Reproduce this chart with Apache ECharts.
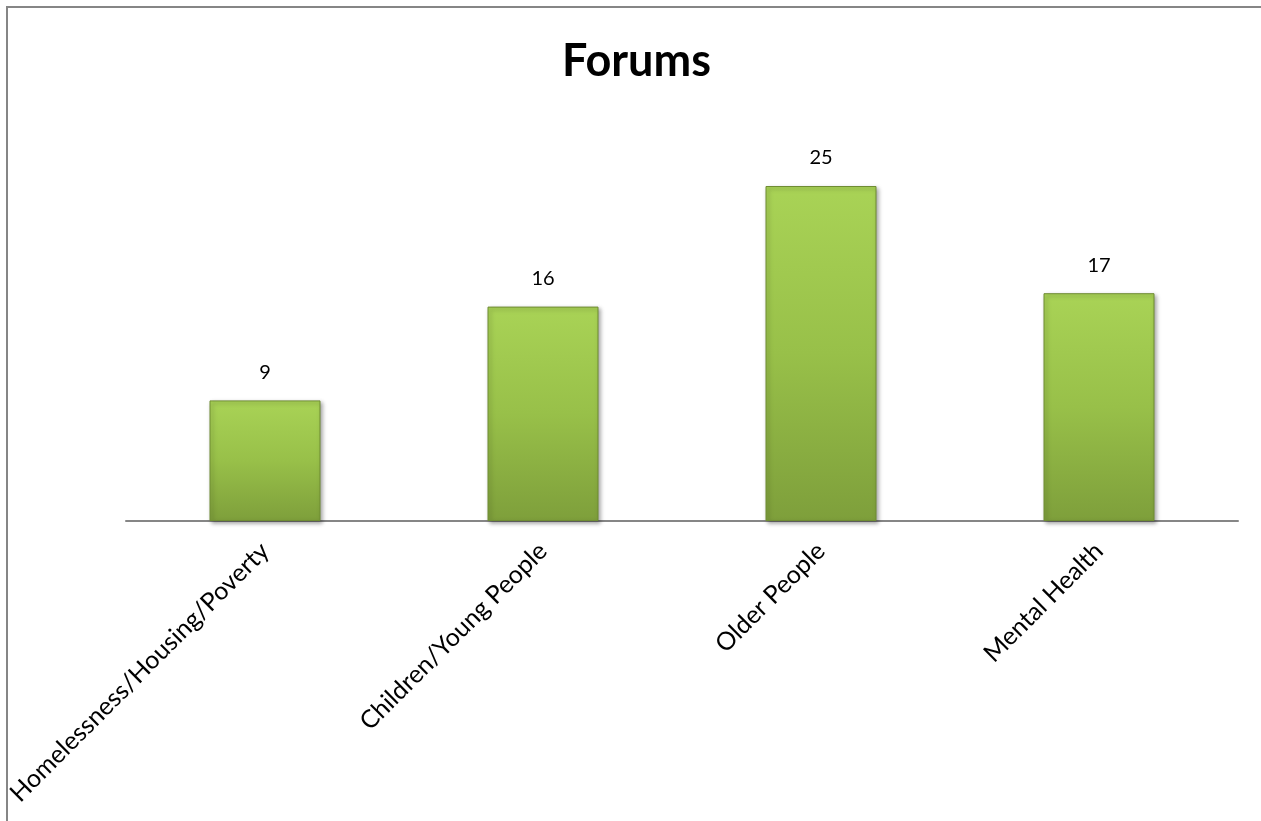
<!DOCTYPE html>
<html>
<head>
<meta charset="utf-8">
<style>html,body{margin:0;padding:0;background:#fff}#c{width:1261px;height:821px}</style>
<script src="https://cdn.jsdelivr.net/npm/echarts@6/dist/echarts.min.js"></script>
</head>
<body>
<div id="c"></div>
<script>
const categories = ['Homelessness/Housing/Poverty', 'Children/Young People', 'Older People', 'Mental Health'];
const values = [9, 16, 25, 17];
const titleText = 'Forums';

const chart = echarts.init(document.getElementById('c'));
chart.setOption({
  backgroundColor: '#fff',
  animation: false,
  title: {
    text: titleText, left: 557, top: 34,
    textStyle: { fontFamily: 'Lato', fontWeight: 'bold', fontSize: 45, color: '#000' }
  },
  graphic: [{
    type: 'rect', shape: { x: 7, y: 7, width: 1300, height: 900 },
    style: { fill: 'none', stroke: '#868686', lineWidth: 2 }, silent: true
  }],
  grid: { left: 126, right: 23, top: 186, bottom: 300 },
  xAxis: {
    type: 'category', data: categories,
    axisLine: { lineStyle: { color: '#868686', width: 2 } },
    axisTick: { show: false },
    axisLabel: { rotate: 45, interval: 0, margin: 26, fontFamily: 'Lato', fontSize: 25, color: '#000' }
  },
  yAxis: { type: 'value', min: 0, max: 25, show: false, splitLine: { show: false } },
  series: [{
    type: 'bar', data: values, barWidth: 111,
    itemStyle: {
      color: new echarts.graphic.LinearGradient(0, 0, 0, 1, [
        { offset: 0, color: '#a9d356' },
        { offset: 0.5, color: '#98c049' },
        { offset: 1, color: '#7e9f3b' }
      ]),
      borderColor: '#6f8c33', borderWidth: 1,
      shadowColor: 'rgba(0,0,0,0.35)', shadowBlur: 4, shadowOffsetX: 2, shadowOffsetY: 2
    },
    label: { show: true, position: 'top', distance: 18, fontFamily: 'Lato', fontSize: 20, color: '#000' }
  }]
});
</script>
</body>
</html>
